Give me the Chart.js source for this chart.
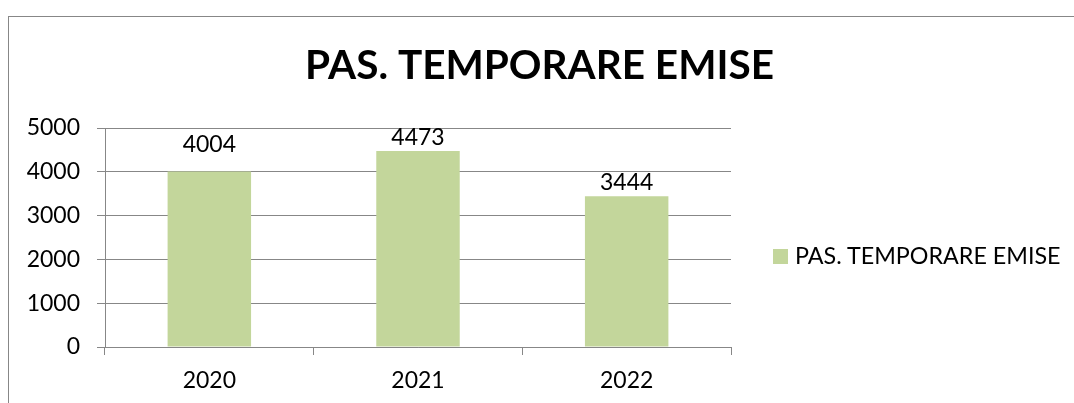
<!DOCTYPE html>
<html>
<head>
<meta charset="utf-8">
<script src="https://cdn.jsdelivr.net/npm/chart.js@4.4.1/dist/chart.umd.min.js"></script>
<style>
  html, body { margin: 0; padding: 0; background: #fff; overflow: hidden; }
  .wrap { position: relative; width: 1074px; height: 403px; overflow: hidden; }
  .frame { position: absolute; left: 8px; top: 16px; right: 0; bottom: 0; border-top: 1px solid #878787; border-left: 1px solid #878787; }
  canvas { position: absolute; left: 0; top: 0; }
  .chart-legend { position: absolute; left: 773px; top: 241px; font-family: Lato, sans-serif; font-size: 23.3px; line-height: normal; color: #000; white-space: nowrap; }
  .legend-color { display: inline-block; width: 15px; height: 15px; margin-right: 7px; vertical-align: 0; }
</style>
</head>
<body>
<div class="wrap">
  <div class="frame"></div>
  <canvas id="chart" width="1074" height="403"></canvas>
  <div class="chart-legend" id="legend"></div>
</div>
<script>
const seriesName = 'PAS. TEMPORARE EMISE';
const years = ['2020', '2021', '2022'];
const issued = [4004, 4473, 3444];
const yTicks = [0, 1000, 2000, 3000, 4000, 5000];

const barColor = '#C3D69B';
const gridColor = '#878787';

// value labels above the bars (no datalabels plugin offline)
const barValues = {
  id: 'barValues',
  afterDatasetsDraw(chart, args, opts) {
    const ctx = chart.ctx;
    const meta = chart.getDatasetMeta(0);
    ctx.save();
    ctx.font = '23px Lato, sans-serif';
    ctx.fillStyle = '#000';
    ctx.textAlign = 'center';
    ctx.textBaseline = 'alphabetic';
    meta.data.forEach((bar, i) => {
      const lift = (opts.lift && opts.lift[i]) || 0;
      ctx.fillText(String(chart.data.datasets[0].data[i]), bar.x, bar.y - lift);
    });
    ctx.restore();
  }
};

new Chart(document.getElementById('chart'), {
  type: 'bar',
  data: {
    labels: years,
    datasets: [{
      label: seriesName,
      data: issued,
      backgroundColor: barColor,
      borderWidth: 0,
      categoryPercentage: 0.4,
      barPercentage: 1.0,
      yAxisID: 'y',
    }],
  },
  options: {
    responsive: false,
    animation: false,
    layout: { padding: { left: 5, right: 0, top: 0, bottom: 0 } },
    plugins: {
      legend: { display: false },
      tooltip: { enabled: false },
      title: {
        display: true,
        text: seriesName,
        color: '#000',
        font: { family: 'Lato, sans-serif', size: 40.5, weight: 'bold' },
        padding: { top: 41.3, bottom: 38.1 },
      },
      barValues: { lift: [20, 6, 6] },
    },
    scales: {
      x: {
        afterFit: (s) => { s.height = 56; },
        grid: { display: true, drawOnChartArea: false, offset: true, tickLength: 8, color: gridColor },
        border: { color: gridColor },
        ticks: { color: '#000', font: { family: 'Lato, sans-serif', size: 23 }, padding: 12 },
      },
      y: {
        min: 0,
        max: 5000,
        afterFit: (s) => { s.width = 100; },
        afterBuildTicks: (axis) => { axis.ticks = yTicks.map(v => ({ value: v })); },
        grid: { color: gridColor, tickLength: 8 },
        border: { color: gridColor },
        ticks: { color: '#000', font: { family: 'Lato, sans-serif', size: 23 }, padding: 17, callback: (v) => String(v) },
      },
      // empty right-hand axis, only keeps room for the legend
      spacer: {
        position: 'right',
        afterFit: (s) => { s.width = 343; },
        grid: { display: false },
        border: { display: false },
        ticks: { display: false },
      },
    },
  },
  plugins: [barValues],
});

document.getElementById('legend').innerHTML =
  '<span class="legend-color" style="background:' + barColor + '"></span>' + seriesName;
</script>
</body>
</html>
